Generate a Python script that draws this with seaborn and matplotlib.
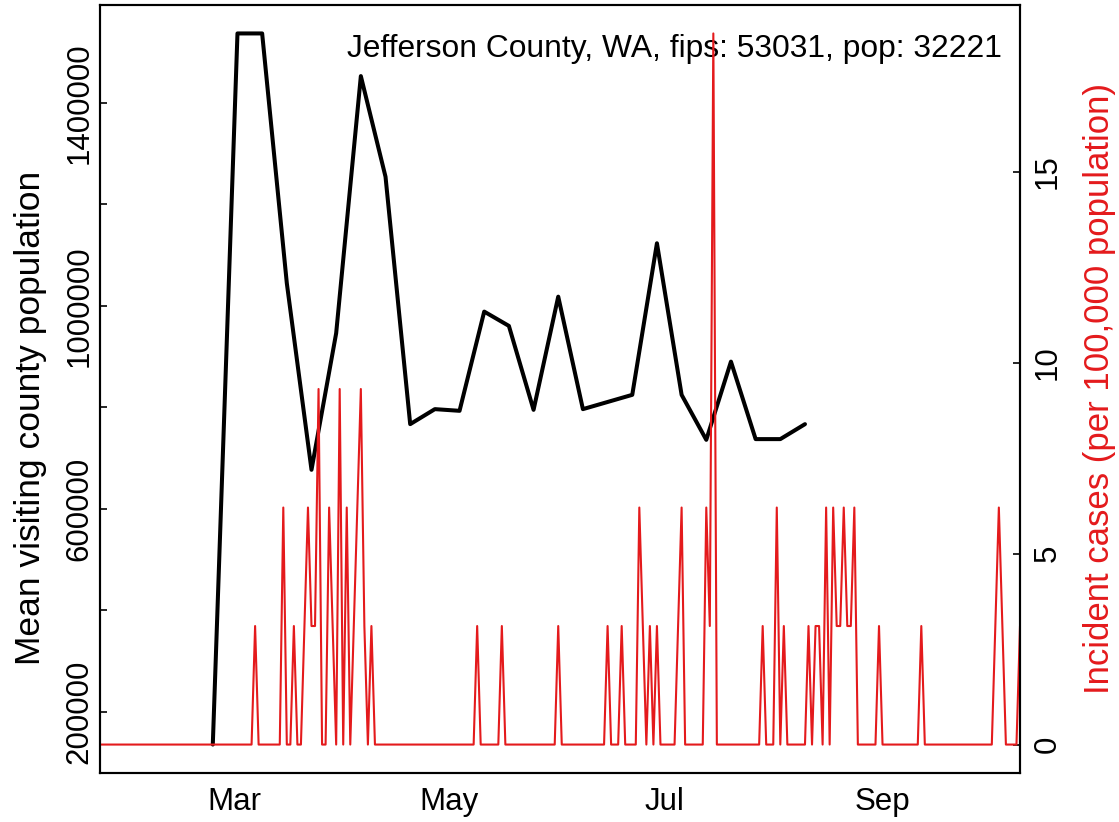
import pandas as pd
import matplotlib
matplotlib.use("Agg")
import matplotlib.pyplot as plt
import matplotlib.dates as mdates
import seaborn as sns

# --- Datos ---
# Mean visiting county population (weekly, Mondays)
visit_dates = pd.date_range("2020-02-24", periods=25, freq="7D")
visit_mean = [135000, 1537000, 1537000, 1044500, 676700, 946000, 1452900,
              1254500, 766700, 796300, 793000, 988600, 960400, 794900,
              1018100, 796300, 810400, 824500, 1123300, 824500, 735800,
              890000, 737200, 737200, 766700]

# Incident cases per 100,000 (daily); only non-zero days listed
case_dates = ["2020-03-07", "2020-03-15", "2020-03-18", "2020-03-21", "2020-03-22",
              "2020-03-23", "2020-03-24", "2020-03-25", "2020-03-28", "2020-03-29",
              "2020-03-31", "2020-04-02", "2020-04-04", "2020-04-05", "2020-04-06",
              "2020-04-07", "2020-04-09", "2020-05-09", "2020-05-16", "2020-06-01",
              "2020-06-15", "2020-06-19", "2020-06-24", "2020-06-25", "2020-06-27",
              "2020-06-29", "2020-07-05", "2020-07-06", "2020-07-13", "2020-07-14",
              "2020-07-15", "2020-07-29", "2020-08-02", "2020-08-04", "2020-08-11",
              "2020-08-13", "2020-08-14", "2020-08-16", "2020-08-18", "2020-08-19",
              "2020-08-20", "2020-08-21", "2020-08-22", "2020-08-23", "2020-08-24",
              "2020-08-31", "2020-09-12", "2020-10-03", "2020-10-04", "2020-10-05",
              "2020-10-10"]
case_incid = [3.104, 6.207, 3.104, 3.104, 6.207,
              3.104, 3.104, 9.311, 6.207, 3.104,
              9.311, 6.207, 3.104, 6.207, 9.311,
              3.104, 3.104, 3.104, 3.104, 3.104,
              3.104, 3.104, 6.207, 3.104, 3.104,
              3.104, 3.104, 6.207, 6.207, 3.104,
              18.622, 3.104, 6.207, 3.104, 3.104,
              3.104, 3.104, 6.207, 6.207, 3.104,
              3.104, 6.207, 3.104, 3.104, 6.207,
              3.104, 3.104, 3.104, 6.207, 3.104,
              3.104]
case_start, case_end = "2020-01-23", "2020-10-10"

title_text = "Jefferson County, WA, fips: 53031, pop: 32221"
left_label = "Mean visiting county population"
right_label = "Incident cases (per 100,000 population)"
red = "#E41A1C"

# --- Series diaria completa (días sin casos = 0) ---
all_days = pd.date_range(case_start, case_end, freq="D")
cases = pd.Series(case_incid, index=pd.to_datetime(case_dates)).reindex(all_days, fill_value=0.0)
df_cases = pd.DataFrame({"date": cases.index, "incid": cases.values})
df_visit = pd.DataFrame({"date": visit_dates, "mean": visit_mean})

# --- Estilo ---
sns.set_theme(style="white")
plt.rcParams['font.family'] = ['Liberation Sans', 'DejaVu Sans']
plt.rcParams['text.color'] = 'black'
plt.rcParams['axes.labelcolor'] = 'black'

fig = plt.figure(figsize=(11.19, 8.22), dpi=100)
ax = fig.add_axes([100 / 1119, 1 - 773 / 822, 920 / 1119, 768 / 822])

sns.lineplot(data=df_visit, x="date", y="mean", ax=ax, color="black", lw=2.9)
ax2 = ax.twinx()
sns.lineplot(data=df_cases, x="date", y="incid", ax=ax2, color=red, lw=1.5)

# R style: range +- 4%
def r_lim(vals):
    lo, hi = min(vals), max(vals)
    pad = (hi - lo) * 0.04
    return lo - pad, hi + pad

ax.set_ylim(*r_lim(visit_mean))
ax2.set_ylim(*r_lim(list(cases.values)))
ax.set_xlim(all_days[0], all_days[-1])

fs = 22.5
ax.xaxis.set_major_locator(mdates.MonthLocator(bymonth=[3, 5, 7, 9]))
ax.xaxis.set_major_formatter(mdates.DateFormatter("%b"))

yt = list(range(200000, 1400001, 200000))
ax.set_yticks(yt)
ax.set_yticklabels([str(v) if v in (200000, 600000, 1000000, 1400000) else "" for v in yt],
                   rotation=90, va="center")
ax2.set_yticks([0, 5, 10, 15])
ax2.set_yticklabels(["0", "5", "10", "15"], rotation=90, va="center")

for a in (ax, ax2):
    a.tick_params(direction="in", length=5, width=1.2, colors="black", labelsize=fs)
    for s in a.spines.values():
        s.set_color("black")
        s.set_linewidth(1.5)
ax.tick_params(axis="x", pad=10)
ax.tick_params(axis="y", pad=4)
ax2.tick_params(axis="y", pad=9)

ax.set_xlabel("")
ax.set_ylabel(left_label, fontsize=25.5, color="black")
ax2.set_ylabel(right_label, fontsize=25, color=red)
ax.yaxis.set_label_coords(-0.058, 0.462)
ax2.yaxis.set_label_coords(1.068, 0.5)

ax.text(0.98, 0.932, title_text, transform=ax.transAxes, ha="right", va="baseline",
        fontsize=22.9, color="black")

fig.savefig("out.png", dpi=100)
